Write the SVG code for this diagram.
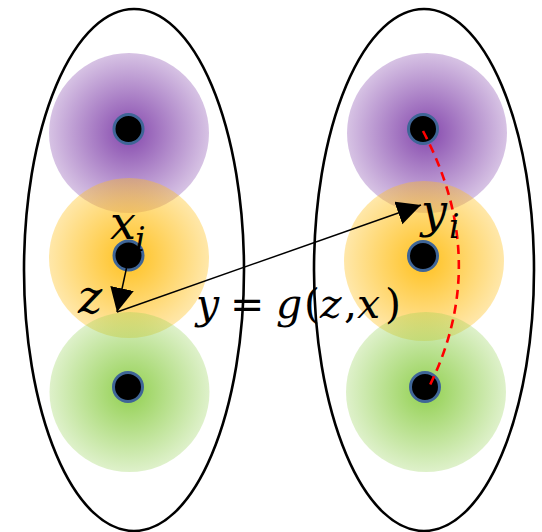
<svg xmlns="http://www.w3.org/2000/svg" width="542" height="532" viewBox="0 0 542 532">
  <style>
    .set { fill: none; stroke: #000; stroke-width: 2.6; }
    .dot { fill: #000; stroke: #3f6597; stroke-width: 3; }
    .lbl { font-family: "DejaVu Serif", "Liberation Serif", serif; font-style: italic; fill: #000; }
    .op { font-family: "DejaVu Serif", "Liberation Serif", serif; fill: #000; }
    .arr { stroke: #000; stroke-width: 1.5; fill: none; marker-end: url(#head); }
  </style>
  <defs>
    <radialGradient id="gPurple">
      <stop offset="0" stop-color="#8548ad" stop-opacity="1"/>
      <stop offset="1" stop-color="#8548ad" stop-opacity="0.33"/>
    </radialGradient>
    <radialGradient id="gYellow">
      <stop offset="0" stop-color="#ffc11f" stop-opacity="1"/>
      <stop offset="1" stop-color="#ffc11f" stop-opacity="0.38"/>
    </radialGradient>
    <radialGradient id="gGreen">
      <stop offset="0" stop-color="#92d050" stop-opacity="1"/>
      <stop offset="1" stop-color="#92d050" stop-opacity="0.3"/>
    </radialGradient>
    <marker id="head" markerUnits="userSpaceOnUse" markerWidth="26" markerHeight="26" refX="24" refY="12" orient="auto">
      <path d="M0,0 L24,12 L0,24 Z" fill="#000"/>
    </marker>
  </defs>

  <g id="set-left">
    <ellipse class="set" cx="134" cy="270" rx="110" ry="261"/>
  </g>
  <g id="set-right">
    <ellipse class="set" cx="424" cy="270" rx="110" ry="261"/>
  </g>

  <g id="left-purple">
    <circle cx="129" cy="133" r="80" fill="url(#gPurple)"/>
    <circle class="dot" cx="128.5" cy="129" r="14.5"/>
  </g>
  <g id="left-yellow">
    <circle cx="129" cy="258" r="80" fill="url(#gYellow)"/>
    <circle class="dot" cx="128.5" cy="255.5" r="14.5"/>
  </g>
  <g id="left-green">
    <circle cx="129.5" cy="392" r="80" fill="url(#gGreen)"/>
    <circle class="dot" cx="128" cy="387" r="14.5"/>
  </g>

  <g id="right-purple">
    <circle cx="427" cy="133" r="80" fill="url(#gPurple)"/>
    <circle class="dot" cx="423" cy="129" r="14.5"/>
  </g>
  <g id="right-yellow">
    <circle cx="424" cy="261" r="80" fill="url(#gYellow)"/>
    <circle class="dot" cx="423" cy="256" r="14.5"/>
  </g>
  <g id="right-green">
    <circle cx="426" cy="392" r="80" fill="url(#gGreen)"/>
    <circle class="dot" cx="425" cy="387" r="14.5"/>
  </g>

  <g id="connectors">
    <line class="arr" x1="126.5" y1="268" x2="117" y2="312"/>
    <line class="arr" x1="117" y1="312" x2="421" y2="205"/>
    <path d="M423,131 Q491,260 430,385" fill="none" stroke="#ff0000" stroke-width="2.6" stroke-dasharray="9,6"/>
  </g>

  <g id="labels">
    <text class="lbl" x="110" y="239" font-size="46">x</text>
    <text class="lbl" x="135" y="251" font-size="33">i</text>
    <text class="lbl" x="78" y="313" font-size="46">z</text>
    <text class="lbl" x="421" y="227" font-size="46">y</text>
    <text class="lbl" x="449" y="238" font-size="33">i</text>
    <g id="equation">
      <text class="lbl" x="196" y="318" font-size="41">y</text>
      <text class="op" x="230" y="318" font-size="41">=</text>
      <text class="lbl" x="276" y="318" font-size="41">g</text>
      <text class="op" x="304" y="318" font-size="41">(</text>
      <text class="lbl" x="320" y="318" font-size="41">z</text>
      <text class="op" x="344" y="318" font-size="41">,</text>
      <text class="lbl" x="357" y="318" font-size="41">x</text>
      <text class="op" x="385" y="318" font-size="41">)</text>
    </g>
  </g>
</svg>
